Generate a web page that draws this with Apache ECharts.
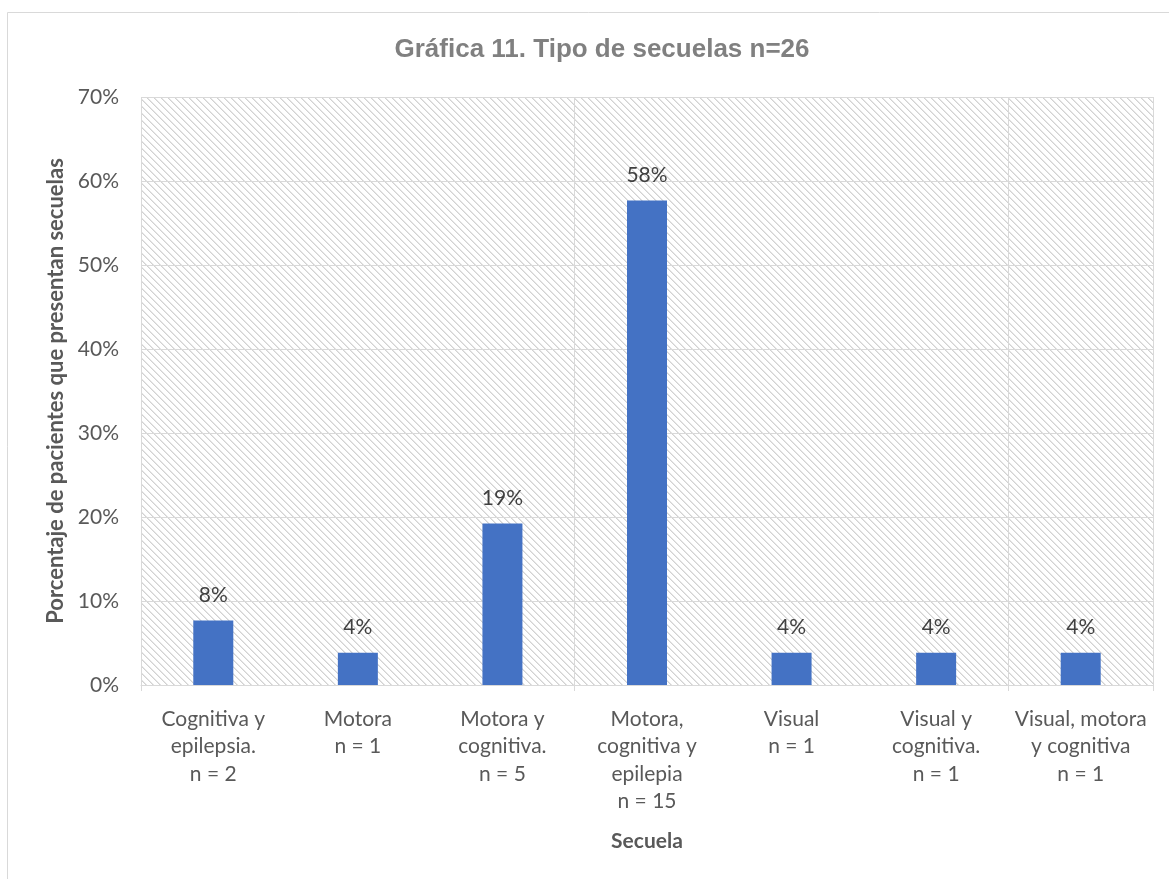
<!DOCTYPE html>
<html>
<head>
<meta charset="utf-8">
<script src="https://cdn.jsdelivr.net/npm/echarts@6/dist/echarts.min.js"></script>
<style>
html,body{margin:0;padding:0;background:#fff;}
#chart{width:1169px;height:879px;}
</style>
</head>
<body>
<div id="chart"></div>
<script>
var titleText = 'Gráfica 11. Tipo de secuelas n=26';
var categories = [
  'Cognitiva y\nepilepsia.\nn = 2',
  'Motora\nn = 1',
  'Motora y\ncognitiva.\nn = 5',
  'Motora,\ncognitiva y\nepilepia\nn = 15',
  'Visual\nn = 1',
  'Visual y\ncognitiva.\nn = 1',
  'Visual, motora\ny cognitiva\nn = 1'
];
var values = [7.69, 3.85, 19.23, 57.69, 3.85, 3.85, 3.85];
var yTicks = [0, 10, 20, 30, 40, 50, 60, 70];
var xName = 'Secuela';
var yName = 'Porcentaje de pacientes que presentan secuelas';

function makePattern() {
  var c = document.createElement('canvas');
  var n = 7;
  c.width = n; c.height = n;
  var ctx = c.getContext('2d');
  ctx.fillStyle = '#ffffff';
  ctx.fillRect(0, 0, n, n);
  for (var i = 0; i < n; i++) {
    ctx.fillStyle = '#d2d2d2';
    ctx.fillRect(i, i, 1, 1);
    ctx.fillStyle = '#e6e6e6';
    ctx.fillRect((i + 1) % n, i, 1, 1);
  }
  return c;
}

var chart = echarts.init(document.getElementById('chart'), null, {renderer: 'canvas'});
var txt = '#595959';
var font = 'Lato, "Open Sans", sans-serif';
chart.setOption({
  animation: false,
  backgroundColor: '#ffffff',
  graphic: [{
    type: 'rect',
    shape: {x: 7.5, y: 12.5, width: 1200, height: 900},
    style: {fill: 'none', stroke: '#d9d9d9', lineWidth: 1},
    silent: true, z: -1
  }],
  title: {
    text: titleText,
    left: 597, top: 32, textAlign: 'center',
    textStyle: {fontFamily: '"Liberation Sans", Arial, sans-serif', fontSize: 26, fontWeight: 'bold', color: '#808080'}
  },
  grid: {
    left: 141, right: 16, top: 97, bottom: 194,
    show: true, borderWidth: 0,
    backgroundColor: {image: makePattern(), repeat: 'repeat'}
  },
  xAxis: {
    type: 'category',
    data: categories,
    name: xName,
    nameLocation: 'middle',
    nameGap: 146,
    nameTextStyle: {fontFamily: font, fontSize: 21, fontWeight: 'bold', color: txt},
    axisLine: {lineStyle: {color: '#d9d9d9', width: 1}},
    axisTick: {show: true, interval: 2, length: 6, lineStyle: {color: '#d9d9d9'}},
    splitLine: {show: true, interval: 2, lineStyle: {color: '#d9d9d9', width: 1}},
    axisLabel: {interval: 0, margin: 20, fontFamily: font, fontSize: 21, color: txt, lineHeight: 27.5}
  },
  yAxis: {
    type: 'value',
    min: 0, max: 70, interval: 10,
    name: yName,
    nameLocation: 'middle',
    nameGap: 74,
    nameTextStyle: {fontFamily: font, fontSize: 22, fontWeight: 'bold', color: txt},
    axisLine: {show: false},
    axisTick: {show: false},
    splitLine: {show: true, lineStyle: {color: '#d9d9d9', width: 1}},
    axisLabel: {
      margin: 22, fontFamily: font, fontSize: 21, color: txt,
      formatter: function (v) { return yTicks.indexOf(v) >= 0 ? v + '%' : ''; }
    }
  },
  series: [{
    type: 'bar',
    data: values,
    barWidth: 40,
    itemStyle: {color: '#4472C4'},
    label: {
      show: true, position: 'top', distance: 15,
      fontFamily: font, fontSize: 21, color: '#404040',
      formatter: function (p) { return Math.round(p.value) + '%'; }
    }
  }]
});
</script>
</body>
</html>
